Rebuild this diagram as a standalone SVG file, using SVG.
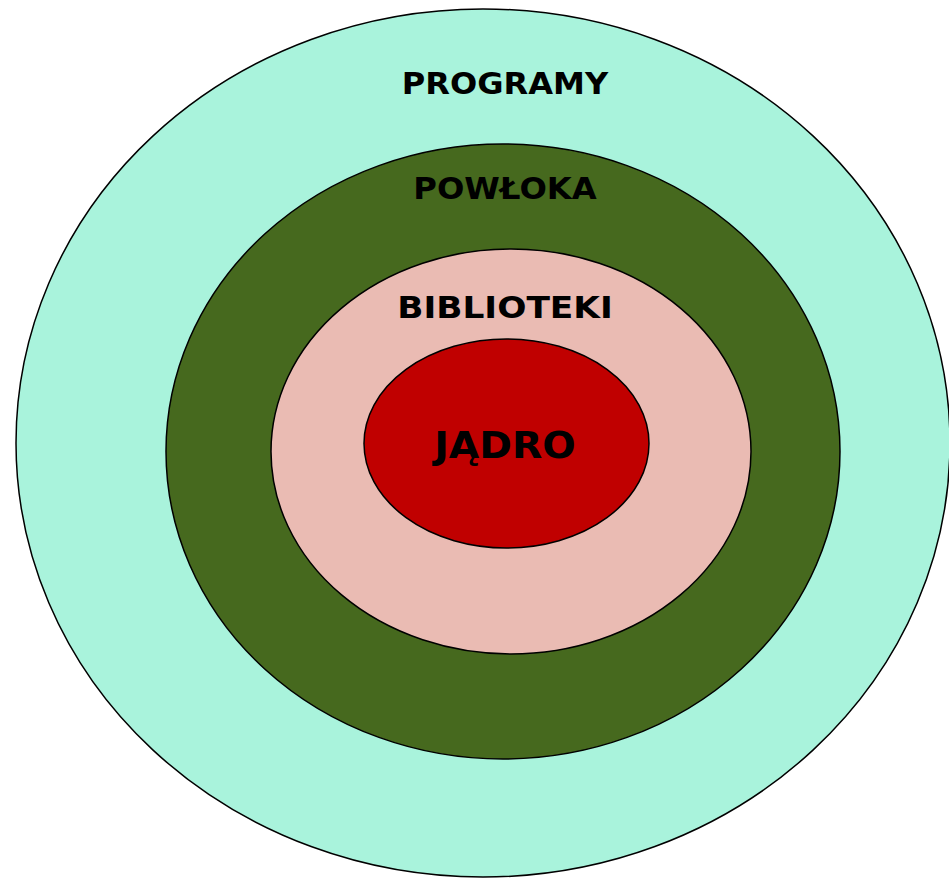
<svg xmlns="http://www.w3.org/2000/svg" width="949" height="878" viewBox="0 0 949 878">
  <style>
    .ring { stroke: #000; stroke-width: 1.5; }
    .label { font-family: "DejaVu Sans", Verdana, sans-serif; font-weight: bold; fill: #000; text-anchor: middle; }
  </style>
  <rect width="949" height="878" fill="#fff"/>
  <g id="programy">
    <ellipse class="ring" cx="483" cy="443" rx="467" ry="434" fill="#A9F3DC"/>
    <text class="label" transform="translate(505,94) scale(1.035,1)" font-size="31">PROGRAMY</text>
  </g>
  <g id="powloka">
    <ellipse class="ring" cx="503" cy="451.5" rx="337" ry="307.5" fill="#46691E"/>
    <text class="label" transform="translate(505,199) scale(1.04,1)" font-size="31">POWŁOKA</text>
  </g>
  <g id="biblioteki">
    <ellipse class="ring" cx="511" cy="451.5" rx="240" ry="202.5" fill="#EABBB3"/>
    <text class="label" transform="translate(505,318) scale(1.11,1)" font-size="31">BIBLIOTEKI</text>
  </g>
  <g id="jadro">
    <ellipse class="ring" cx="506.5" cy="443.5" rx="142.5" ry="104.5" fill="#C00000"/>
    <text class="label" transform="translate(505,458) scale(1.065,1)" font-size="37">JĄDRO</text>
  </g>
</svg>
